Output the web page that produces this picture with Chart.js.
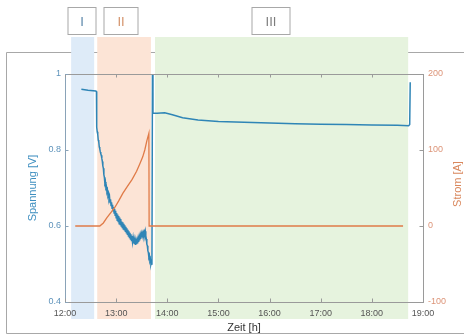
<!DOCTYPE html>
<html>
<head>
<meta charset="utf-8">
<script src="https://cdn.jsdelivr.net/npm/chart.js@4"></script>
<style>
  html, body { margin: 0; padding: 0; background: #fff; }
  canvas { display: block; }
</style>
</head>
<body>
<canvas id="c" width="464" height="335"></canvas>
<script>
// Axis ticks and labels
const hourTicks = [12, 13, 14, 15, 16, 17, 18, 19];
const hourLabels = ['12:00', '13:00', '14:00', '15:00', '16:00', '17:00', '18:00', '19:00'];
const voltageTicks = [0.4, 0.6, 0.8, 1.0];
const voltageLabels = ['0.4', '0.6', '0.8', '1'];
const currentTicks = [-100, 0, 100, 200];
const currentLabels = ['-100', '0', '100', '200'];

// Test phases (hours)
const phaseNames = ['I', 'II', 'III'];
const phaseStart = [12.12, 12.63, 13.76];
const phaseEnd = [12.57, 13.68, 18.71];
const phaseTagAt = [12.34, 13.10, 16.02];

// Cell voltage [V] over time [h]
const voltage = [
  [12.32, 0.960], [12.45, 0.957], [12.60, 0.955], [12.615, 0.954],
  [12.62, 0.860], [12.63, 0.848], [12.64, 0.842], [12.65, 0.826], [12.66, 0.822],
  [12.67, 0.808], [12.68, 0.803], [12.69, 0.795], [12.70, 0.790], [12.71, 0.786],
  [12.72, 0.778], [12.73, 0.770], [12.74, 0.758], [12.75, 0.752], [12.76, 0.735],
  [12.77, 0.728], [12.78, 0.712], [12.79, 0.716], [12.80, 0.700], [12.81, 0.703],
  [12.82, 0.690], [12.83, 0.694], [12.84, 0.680], [12.85, 0.684], [12.86, 0.672],
  [12.87, 0.678], [12.88, 0.662], [12.89, 0.670], [12.90, 0.654], [12.91, 0.662],
  [12.92, 0.647], [12.93, 0.656], [12.94, 0.640], [12.95, 0.650], [12.96, 0.634],
  [12.97, 0.645], [12.98, 0.628], [12.99, 0.640], [13.00, 0.622], [13.01, 0.634],
  [13.02, 0.615], [13.03, 0.630], [13.04, 0.612], [13.05, 0.626], [13.06, 0.606],
  [13.07, 0.622], [13.08, 0.604], [13.09, 0.618], [13.10, 0.600], [13.11, 0.612],
  [13.12, 0.596], [13.13, 0.610], [13.14, 0.592], [13.15, 0.606], [13.16, 0.590],
  [13.17, 0.602], [13.18, 0.586], [13.19, 0.598], [13.20, 0.582], [13.21, 0.594],
  [13.22, 0.578], [13.23, 0.590], [13.24, 0.574], [13.25, 0.586], [13.26, 0.570],
  [13.27, 0.582], [13.28, 0.566], [13.29, 0.578], [13.30, 0.562], [13.31, 0.574],
  [13.32, 0.558], [13.33, 0.568], [13.34, 0.554], [13.35, 0.564], [13.36, 0.552],
  [13.37, 0.562], [13.38, 0.550], [13.39, 0.560], [13.40, 0.552], [13.41, 0.562],
  [13.42, 0.554], [13.43, 0.566], [13.44, 0.558], [13.45, 0.570], [13.46, 0.562],
  [13.47, 0.574], [13.48, 0.566], [13.49, 0.578], [13.50, 0.570], [13.51, 0.580],
  [13.52, 0.574], [13.53, 0.582], [13.54, 0.576], [13.55, 0.584], [13.56, 0.578],
  [13.57, 0.586], [13.58, 0.574], [13.59, 0.566], [13.60, 0.552], [13.61, 0.548],
  [13.62, 0.535], [13.63, 0.530], [13.64, 0.518], [13.65, 0.522], [13.66, 0.508],
  [13.67, 0.512], [13.68, 0.500], [13.69, 0.506], [13.70, 0.498],
  [13.71, 1.000], [13.72, 0.897],
  [13.80, 0.897], [13.95, 0.898], [14.10, 0.893], [14.30, 0.885], [14.60, 0.879],
  [15.00, 0.875], [15.50, 0.873], [16.00, 0.871], [16.50, 0.869], [17.00, 0.868],
  [17.50, 0.867], [18.00, 0.866], [18.50, 0.865], [18.72, 0.864], [18.74, 0.867],
  [18.75, 0.978]
];

// Cell current [A] over time [h]
const current = [
  [12.20, 0], [12.68, 0], [12.75, 4], [12.82, 11], [12.90, 18], [12.98, 25],
  [13.05, 33], [13.13, 43], [13.22, 52], [13.31, 61], [13.40, 72], [13.47, 83],
  [13.52, 91], [13.56, 100], [13.60, 112], [13.64, 122], [13.645, 0], [18.61, 0]
];

const FONT = '"Liberation Sans", Arial, sans-serif';
const phaseFill = ['rgb(222,235,248)', 'rgb(252,228,214)', 'rgb(230,243,222)'];
const tagColor = ['#5a86aa', '#d4926a', '#7d7d7d'];
const tagWidth = [29, 35, 39];
const axisGray = '#9a9a9a';

const panel = {
  id: 'panel',
  beforeDraw(chart) {
    const { ctx, width, height } = chart;
    const x = chart.scales.x;
    ctx.save();
    ctx.fillStyle = '#fff';
    ctx.fillRect(0, 0, width, height);
    // surrounding panel border
    ctx.strokeStyle = '#a8a8a8';
    ctx.lineWidth = 1;
    ctx.beginPath();
    ctx.moveTo(width, 52.5);
    ctx.lineTo(6.5, 52.5);
    ctx.lineTo(6.5, 333.5);
    ctx.lineTo(width, 333.5);
    ctx.stroke();
    // phase bands with their tags
    phaseNames.forEach((name, i) => {
      const x0 = x.getPixelForValue(phaseStart[i]);
      const x1 = x.getPixelForValue(phaseEnd[i]);
      ctx.fillStyle = phaseFill[i];
      ctx.fillRect(x0, 37, x1 - x0, 282);
      const cx = Math.round(x.getPixelForValue(phaseTagAt[i]));
      const w = tagWidth[i];
      ctx.fillStyle = '#fff';
      ctx.fillRect(cx - w / 2, 7, w, 27);
      ctx.strokeStyle = '#a8a8a8';
      ctx.strokeRect(cx - w / 2 + 0.5, 7.5, w - 1, 27);
      ctx.fillStyle = tagColor[i];
      ctx.font = '13px ' + FONT;
      ctx.textAlign = 'center';
      ctx.textBaseline = 'middle';
      ctx.fillText(name, cx, 22);
    });
    ctx.restore();
  },
  afterDatasetsDraw(chart) {
    const { ctx, chartArea: a } = chart;
    const { x, yV, yI } = chart.scales;
    ctx.save();
    ctx.lineWidth = 1;
    // top border of the axes box
    ctx.strokeStyle = axisGray;
    ctx.beginPath();
    ctx.moveTo(a.left, a.top + 0.5);
    ctx.lineTo(a.right, a.top + 0.5);
    ctx.stroke();
    // inward tick marks
    const len = 3.5;
    ctx.beginPath();
    hourTicks.forEach(h => {
      const px = Math.round(x.getPixelForValue(h)) + 0.5;
      ctx.moveTo(px, a.bottom); ctx.lineTo(px, a.bottom - len);
      ctx.moveTo(px, a.top); ctx.lineTo(px, a.top + len);
    });
    ctx.stroke();
    ctx.strokeStyle = '#8aa3b8';
    ctx.beginPath();
    voltageTicks.forEach(v => {
      const py = Math.round(yV.getPixelForValue(v)) + 0.5;
      ctx.moveTo(a.left, py); ctx.lineTo(a.left + len, py);
    });
    ctx.stroke();
    ctx.strokeStyle = axisGray;
    ctx.beginPath();
    currentTicks.forEach(v => {
      const py = Math.round(yI.getPixelForValue(v)) + 0.5;
      ctx.moveTo(a.right, py); ctx.lineTo(a.right - len, py);
    });
    ctx.stroke();
    // right axis title, reading bottom to top
    ctx.translate(458, (a.top + a.bottom) / 2 - 4);
    ctx.rotate(-Math.PI / 2);
    ctx.fillStyle = '#d9875c';
    ctx.font = '11px ' + FONT;
    ctx.textAlign = 'center';
    ctx.textBaseline = 'middle';
    ctx.fillText('Strom [A]', 0, 0);
    ctx.restore();
  }
};

const toXY = arr => arr.map(([t, v]) => ({ x: t, y: v }));

new Chart(document.getElementById('c'), {
  type: 'line',
  data: {
    datasets: [
      {
        label: 'Strom',
        data: toXY(current),
        yAxisID: 'yI',
        borderColor: '#e07b48',
        borderWidth: 1.3,
        pointRadius: 0,
        tension: 0
      },
      {
        label: 'Spannung',
        data: toXY(voltage),
        yAxisID: 'yV',
        borderColor: '#2f85b6',
        borderWidth: 1.5,
        pointRadius: 0,
        tension: 0
      }
    ]
  },
  options: {
    responsive: false,
    animation: false,
    devicePixelRatio: 1,
    layout: { padding: { top: 74, left: 0, right: 0, bottom: 0 } },
    plugins: { legend: { display: false }, tooltip: { enabled: false } },
    scales: {
      x: {
        type: 'linear',
        min: 12, max: 19,
        afterFit: s => { s.height = 33; },
        afterBuildTicks: s => { s.ticks = hourTicks.map(v => ({ value: v })); },
        grid: { display: true, drawOnChartArea: false, drawTicks: false },
        border: { display: true, color: axisGray, width: 1 },
        ticks: {
          autoSkip: false, maxRotation: 0, padding: 6,
          color: '#555', font: { family: FONT, size: 9 },
          callback: (v, i) => hourLabels[i]
        },
        title: {
          display: true, text: 'Zeit [h]', color: '#333',
          font: { family: FONT, size: 11 }, padding: { top: 0, bottom: 0 }
        }
      },
      yV: {
        type: 'linear', position: 'left',
        min: 0.4, max: 1,
        afterFit: s => { s.width = 65; },
        afterBuildTicks: s => { s.ticks = voltageTicks.map(v => ({ value: v })); },
        grid: { display: true, drawOnChartArea: false, drawTicks: false },
        border: { display: true, color: '#8aa3b8', width: 1 },
        ticks: {
          padding: 4, color: '#5e93bb', font: { family: FONT, size: 9 },
          callback: (v, i) => voltageLabels[i]
        },
        title: {
          display: true, text: 'Spannung [V]', color: '#3f8fc0',
          font: { family: FONT, size: 11 }, padding: { top: 26, bottom: 0 }
        }
      },
      yI: {
        type: 'linear', position: 'right',
        min: -100, max: 200,
        afterFit: s => { s.width = 41; },
        afterBuildTicks: s => { s.ticks = currentTicks.map(v => ({ value: v })); },
        grid: { display: true, drawOnChartArea: false, drawTicks: false },
        border: { display: true, color: axisGray, width: 1 },
        ticks: {
          padding: 5, color: '#dc9478', font: { family: FONT, size: 9 },
          callback: (v, i) => currentLabels[i]
        }
      }
    }
  },
  plugins: [panel]
});
</script>
</body>
</html>
